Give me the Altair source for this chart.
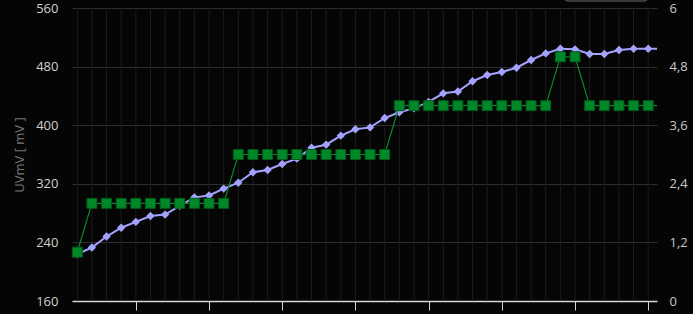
import altair as alt
import pandas as pd

# Sample index along the x axis (one extra, clipped sample at the right edge)
idx = list(range(41))

# UVmV [ mV ] (left axis)
uvmv = [224, 233, 248, 260, 268, 276, 278, 290, 301.5, 304,
        313.5, 321.5, 335.7, 338.8, 347, 354.3, 369.3, 373.4, 385.7, 394.4,
        397, 409.8, 417.6, 423, 431.7, 443.5, 446, 460, 468.5, 472.6,
        478.5, 489, 498, 504.4, 503.6, 497.2, 497.2, 502.7, 504.4, 504.4,
        504.4]

# Step series (right axis)
level = [1, 2, 2, 2, 2, 2, 2, 2, 2, 2,
         2, 3, 3, 3, 3, 3, 3, 3, 3, 3,
         3, 3, 4, 4, 4, 4, 4, 4, 4, 4,
         4, 4, 4, 5, 5, 4, 4, 4, 4, 4,
         4]

left_ticks = [160, 240, 320, 400, 480, 560]
right_ticks = [0, 1.2, 2.4, 3.6, 4.8, 6]
x_ticks = [4, 9, 14, 19, 24, 29, 34, 39]
grid_x = list(range(40))

df = pd.DataFrame({"i": idx, "uv": uvmv, "lvl": level})
grid_df = pd.DataFrame({"i": grid_x})

W, H = 585, 293
FONT = "Open Sans"
xscale = alt.Scale(domain=[-0.36, 39.6], nice=False, zero=False)

xaxis = alt.Axis(values=x_ticks, labels=False, title=None, grid=False,
                 domainColor="#d8d8d8", domainWidth=1.5,
                 tickColor="#d8d8d8", tickSize=9, tickWidth=1)

vgrid = alt.Chart(grid_df).mark_rule(color="#1c1c1c", strokeWidth=1).encode(
    x=alt.X("i:Q", scale=xscale, axis=xaxis),
    y=alt.value(0), y2=alt.value(H),
)

purple = "#a3a3ff"
left = alt.Chart(df).mark_line(
    color=purple, strokeWidth=2, clip=True,
    point=alt.OverlayMarkDef(shape="diamond", filled=True, size=70,
                             color=purple, clip=True),
).encode(
    x=alt.X("i:Q", scale=xscale, axis=xaxis),
    y=alt.Y("uv:Q", scale=alt.Scale(domain=[160, 560], nice=False, zero=False),
            axis=alt.Axis(orient="left", values=left_ticks, title="UVmV [ mV ]",
                          grid=True, gridColor="#2e2e2e", gridWidth=1,
                          ticks=False, domain=False, labelPadding=14,
                          labelColor="#d0d0d0", labelFontSize=13, labelFont=FONT,
                          titleColor="#777777", titleFontSize=13, titleFont=FONT,
                          titleFontWeight="normal", titlePadding=9)),
)

green = alt.Chart(df).mark_line(
    color="#0a8a2a", strokeWidth=1.2, clip=True,
    point=alt.OverlayMarkDef(shape="square", filled=True, size=100,
                             color="#00872a", stroke="#005a16", strokeWidth=1,
                             clip=True),
).encode(
    x=alt.X("i:Q", scale=xscale, axis=xaxis),
    y=alt.Y("lvl:Q", scale=alt.Scale(domain=[0, 6], nice=False, zero=False),
            axis=alt.Axis(orient="right", values=right_ticks, title=None,
                          grid=False, ticks=False, domain=False, labelPadding=12,
                          labelColor="#c8c8c8", labelFontSize=13, labelFont=FONT,
                          labelExpr="replace(format(datum.value, '~g'), '.', ',')")),
)

box = alt.Chart(pd.DataFrame({"k": [0]})).mark_rect(
    fill=None, stroke="#4a4a4a", strokeWidth=1.5, cornerRadius=3, clip=False
).encode(
    x=alt.value(493), x2=alt.value(575), y=alt.value(-16), y2=alt.value(-7),
)

chart = alt.layer(vgrid, left, green, box).resolve_scale(y="independent").properties(
    width=W, height=H,
    autosize=alt.AutoSizeParams(type="none"),
    padding={"left": 72, "top": 8, "right": 36, "bottom": 13},
    background="#050505",
).configure_view(strokeWidth=0)

chart.save("out.html", embed_options={"renderer": "svg", "actions": False})
